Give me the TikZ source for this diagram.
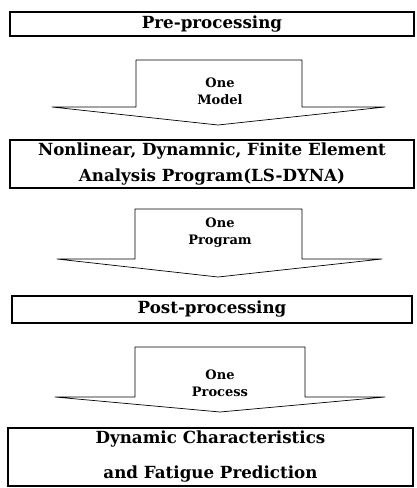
\documentclass[tikz,border=0pt]{standalone}
\usepackage{fontspec}
\setmainfont{DejaVu Serif}
\usetikzlibrary{positioning}
\tikzset{stage/.style={draw, line width=1.1pt, inner sep=0pt, align=center,
        font=\bfseries\fontsize{16.7}{26}\selectfont},
    flow/.style={draw, line width=0.7pt, line join=round},
    flowtext/.style={align=center, inner sep=0pt,
        font=\bfseries\fontsize{13}{17}\selectfont}
}

\begin{document}
\begin{tikzpicture}[x=1pt,y=-1pt]
      \useasboundingbox (0,0) rectangle (417,488);
      \node[stage, minimum width=404pt, minimum height=24pt] (pre) at (212,24) {Pre-processing};
      \node[stage, minimum width=404pt, minimum height=48pt] (fea) at (212,164)
        {Nonlinear, Dynamnic, Finite Element\\Analysis Program(LS-DYNA)};
      \node[stage, minimum width=400pt, minimum height=27pt] (post) at (212,309.5) {Post-processing};
      \node[stage, minimum width=405pt, minimum height=58pt,
        font=\bfseries\fontsize{16.7}{35}\selectfont] (result) at (210.5,457)
        {Dynamic Characteristics\\and Fatigue Prediction};
      \draw[flow] (136,60) -- (302,60) -- (302,107) -- (385,107) -- (218,125)
        -- (52,107) -- (136,107) -- cycle;
      \node[flowtext] (model) at (220,91) {One\\Model};
      \draw[flow] (135,209) -- (302,209) -- (302,259) -- (382,259) -- (218,277)
        -- (57,259) -- (135,259) -- cycle;
      \node[flowtext] (program) at (220,233) {One\\Program};
      \draw[flow] (135,347) -- (305,347) -- (305,397) -- (385,397) -- (220,412)
        -- (55,397) -- (135,397) -- cycle;
      \node[flowtext] (process) at (220,383) {One\\Process};
    \end{tikzpicture}
\end{document}
